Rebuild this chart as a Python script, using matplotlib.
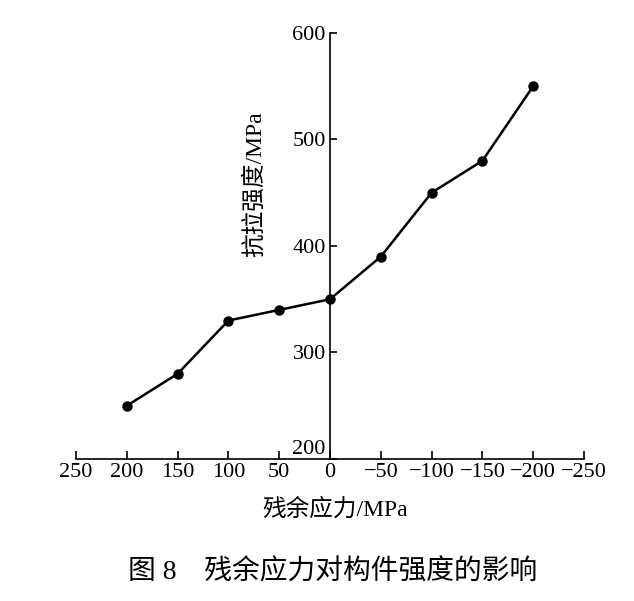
import matplotlib
matplotlib.use("Agg")
import matplotlib.pyplot as plt

plt.rcParams['font.family'] = ['Liberation Serif', 'Noto Sans CJK SC', 'DejaVu Sans']
plt.rcParams['axes.unicode_minus'] = True

stress = [200, 150, 100, 50, 0, -50, -100, -150, -200]
strength = [250, 280, 330, 340, 350, 390, 450, 480, 550]
xticks = [250, 200, 150, 100, 50, 0, -50, -100, -150, -200, -250]
yticks = [200, 300, 400, 500, 600]

fig = plt.figure(figsize=(6.34, 6.01), dpi=100)
ax = fig.add_axes([0.1199, 0.2363, 0.8012, 0.7088])

ax.plot(stress, strength, color='black', lw=1.8, marker='o', ms=6.5, zorder=3)

ax.set_xlim(250, -250)
ax.set_ylim(200, 600)
ax.spines['left'].set_position(('data', 0))
ax.spines['right'].set_visible(False)
ax.spines['top'].set_visible(False)
for s in ['left', 'bottom']:
    ax.spines[s].set_linewidth(1.2)

ax.set_xticks(xticks)
ax.set_xticklabels([str(v).replace('-', '\u2212') for v in xticks])
ax.set_yticks(yticks)
ax.set_yticklabels([str(v) for v in yticks])
ax.tick_params(axis='x', direction='in', length=6, width=1.2, labelsize=16, pad=3)
ax.tick_params(axis='y', direction='in', length=5, width=1.2, labelsize=16, pad=3)
ax.get_yticklabels()[0].set_va('bottom')

ax.text(74, 458, '抗拉强度/MPa', rotation=90, ha='center', va='center', fontsize=17)
fig.text(0.528, 0.152, '残余应力/MPa', ha='center', va='center', fontsize=17)
fig.text(0.524, 0.047, '图 8　残余应力对构件强度的影响', ha='center', va='center', fontsize=20)

fig.savefig('out.png', dpi=100)
